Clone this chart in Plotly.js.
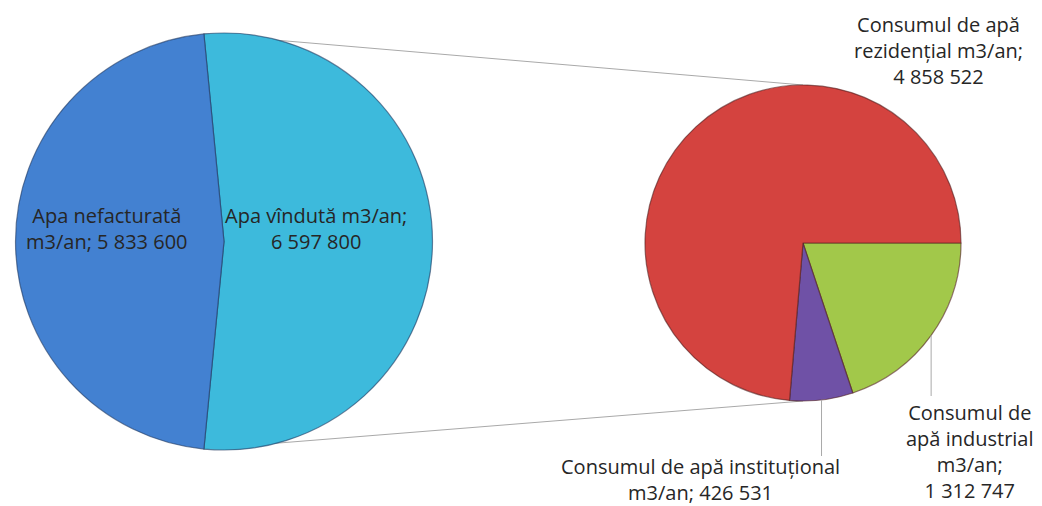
<!DOCTYPE html>
<html>
<head>
<meta charset="utf-8">
<script src="https://cdn.plot.ly/plotly-3.0.1.min.js"></script>
<style>html,body{margin:0;padding:0;background:#fff;}#chart{width:1042px;height:506px;}</style>
</head>
<body>
<div id="chart"></div>
<script>
// ---- Data ----
const mainLabels = ["Apa vîndută m3/an", "Apa nefacturată m3/an"];
const mainValues = [6597800, 5833600];
const subLabels = ["Consumul de apă industrial m3/an", "Consumul de apă instituțional m3/an", "Consumul de apă rezidențial m3/an"];
const subValues = [1312747, 426531, 4858522];

// ---- Styling / layout ----
const W = 1042, H = 506;
const mainColors = ["#3DBADC", "#4381D1"];
const subColors = ["#A2C84A", "#6F51A6", "#D4433F"];
const fontFam = "'Open Sans', 'Liberation Sans', sans-serif";
const txtColor = "#262626";
const fsize = 20;

const dom1 = {x: [15 / W, 433 / W], y: [1 - 450 / H, 1 - 33 / H]};
const dom2 = {x: [645 / W, 961 / W], y: [1 - 401 / H, 1 - 85 / H]};

function fmt(v) { return String(v).replace(/\B(?=(\d{3})+(?!\d))/g, "\u00a0"); }
function wrap(name, value, width) {
  const words = (name + ";").split(" ").concat([fmt(value)]);
  const lines = []; let cur = "";
  words.forEach(w => {
    if (cur === "") cur = w;
    else if ((cur + " " + w).length <= width) cur += " " + w;
    else { lines.push(cur); cur = w; }
  });
  if (cur) lines.push(cur);
  return lines.join("<br>");
}

const totalMain = mainValues.reduce((a, b) => a + b, 0);
const fSold = mainValues[0] / totalMain;
const rot1 = 90 - 180 * fSold;           // sold slice centred on the right
const totalSub = subValues.reduce((a, b) => a + b, 0);
const rot2 = 90;

function geom(dom) {
  const w = (dom.x[1] - dom.x[0]) * W, h = (dom.y[1] - dom.y[0]) * H;
  return {cx: (dom.x[0] + dom.x[1]) / 2 * W, cy: H - (dom.y[0] + dom.y[1]) / 2 * H, r: Math.min(w, h) / 2};
}
const g1 = geom(dom1), g2 = geom(dom2);
function pt(g, angDeg) {
  const a = angDeg * Math.PI / 180;
  return [g.cx + g.r * Math.sin(a), g.cy - g.r * Math.cos(a)];
}
const px = x => x / W, py = y => 1 - y / H;

const shapes = [];
const lineStyle = {color: "#A9A9A9", width: 1};
// connector lines between pies
const topA = pt(g1, rot1), botA = pt(g1, rot1 + 360 * fSold);
shapes.push({type: "line", xref: "paper", yref: "paper", layer: "below",
  x0: px(topA[0]), y0: py(topA[1]), x1: px(g2.cx), y1: py(g2.cy - g2.r), line: lineStyle});
shapes.push({type: "line", xref: "paper", yref: "paper", layer: "below",
  x0: px(botA[0]), y0: py(botA[1]), x1: px(g2.cx), y1: py(g2.cy + g2.r), line: lineStyle});

// leader lines for industrial and institutional slices
let cum = 0; const mids = [];
subValues.forEach(v => { mids.push(rot2 + 360 * (cum + v / 2) / totalSub); cum += v; });
const leaderEnds = [396, 456];
[0, 1].forEach(i => {
  const p = pt(g2, mids[i]);
  shapes.push({type: "line", xref: "paper", yref: "paper",
    x0: px(p[0]), y0: py(p[1]), x1: px(p[0]), y1: py(leaderEnds[i]), line: lineStyle});
});

const ann = (text, x, y) => ({text, x: px(x), y: py(y), xref: "paper", yref: "paper",
  showarrow: false, xanchor: "center", yanchor: "middle", align: "center",
  font: {family: fontFam, size: fsize, color: txtColor}});

const annotations = [
  ann(wrap(mainLabels[1], mainValues[1], 16), 107, 228),
  ann(wrap(mainLabels[0], mainValues[0], 18), 316, 228),
  ann(wrap(subLabels[2], subValues[2], 18), 938, 51),
  ann(wrap(subLabels[0], subValues[0], 14), 970, 451),
  ann(wrap(subLabels[1], subValues[1], 29), 700, 479)
];

const traces = [
  {type: "pie", labels: mainLabels, values: mainValues, sort: false, direction: "clockwise",
   rotation: rot1, domain: dom1, textinfo: "none", hoverinfo: "none",
   marker: {colors: mainColors, line: {color: "rgba(30,55,95,0.6)", width: 1.2}}},
  {type: "pie", labels: subLabels, values: subValues, sort: false, direction: "clockwise",
   rotation: rot2, domain: dom2, textinfo: "none", hoverinfo: "none",
   marker: {colors: subColors, line: {color: "rgba(80,30,30,0.6)", width: 1.2}}}
];

const layout = {width: W, height: H, margin: {l: 0, r: 0, t: 0, b: 0}, showlegend: false,
  paper_bgcolor: "#fff", plot_bgcolor: "#fff", shapes, annotations,
  font: {family: fontFam, color: txtColor}};

Plotly.newPlot("chart", traces, layout, {staticPlot: true, displayModeBar: false});
</script>
</body>
</html>
